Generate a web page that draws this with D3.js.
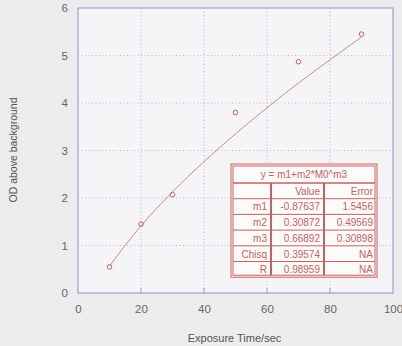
<!DOCTYPE html>
<html>
<head>
<meta charset="utf-8">
<script src="https://cdn.jsdelivr.net/npm/d3@7"></script>
<style>
  body { margin: 0; background: #ececec; }
  svg { display: block; font-family: "Liberation Sans", Arial, sans-serif; }
</style>
</head>
<body>
<svg id="chart"></svg>
<script>
// measured points
const exposure = [10, 20, 30, 50, 70, 90];
const odValues = [0.55, 1.45, 2.07, 3.8, 4.87, 5.45];

// fitted curve
const fitX = [10, 20, 30, 40, 50, 60, 70, 80, 90];
const fitY = [0.565, 1.415, 2.128, 2.766, 3.35, 3.9, 4.42, 4.91, 5.39];

const xTicks = [0, 20, 40, 60, 80, 100];
const yTicks = [0, 1, 2, 3, 4, 5, 6];

// fit results table
const fitTitle = 'y = m1+m2*M0^m3';
const tableHeader = ['', 'Value', 'Error'];
const paramNames = ['m1', 'm2', 'm3', 'Chisq', 'R'];
const paramValues = ['-0.87637', '0.30872', '0.66892', '0.39574', '0.98959'];
const paramErrors = ['1.5456', '0.49569', '0.30898', 'NA', 'NA'];

const W = 402, H = 346;
const margin = {top: 8, right: 9, bottom: 53, left: 78};
const width = W - margin.left - margin.right;
const height = H - margin.top - margin.bottom;

const axisCol = '#9d9fd6';
const red = '#c9605c';

let svg = d3.select('#chart').attr('width', W).attr('height', H);

svg.append('rect').attr('width', W).attr('height', H).attr('fill', '#ececec');

let chart = svg.append('g').attr('transform', `translate(${margin.left},${margin.top})`);

let xScale = d3.scaleLinear().domain([0, 100]).range([0, width]);
let yScale = d3.scaleLinear().domain([0, 6]).range([height, 0]);

chart.append('rect')
  .attr('width', width).attr('height', height)
  .attr('fill', '#f5f5f7');

// dotted grid
chart.append('g').selectAll('line')
  .data(xTicks.slice(1, -1))
  .join('line')
  .attr('x1', d => xScale(d)).attr('x2', d => xScale(d))
  .attr('y1', 0).attr('y2', height)
  .attr('stroke', '#b4b6dc').attr('stroke-width', 1)
  .attr('stroke-dasharray', '1,2.5');

chart.append('g').selectAll('line')
  .data(yTicks.slice(1, -1))
  .join('line')
  .attr('x1', 0).attr('x2', width)
  .attr('y1', d => yScale(d)).attr('y2', d => yScale(d))
  .attr('stroke', '#b4b6dc').attr('stroke-width', 1)
  .attr('stroke-dasharray', '1,2.5');

// axes
let xAxis = d3.axisBottom(xScale).tickValues(xTicks).tickFormat(d3.format('d')).tickSize(0).tickPadding(12);
let yAxis = d3.axisLeft(yScale).tickValues(yTicks).tickFormat(d3.format('d')).tickSize(0).tickPadding(10);

let xAxisGroup = chart.append('g')
  .attr('transform', `translate(0,${height})`)
  .call(xAxis);
let yAxisGroup = chart.append('g').call(yAxis);

[xAxisGroup, yAxisGroup].forEach(g => {
  g.select('.domain').remove();
  g.selectAll('text').attr('fill', '#666').attr('font-size', 11.5)
    .attr('font-family', '"Liberation Sans", Arial, sans-serif');
});

// small inward tick marks
chart.append('g').selectAll('line')
  .data(xTicks.slice(1, -1))
  .join('line')
  .attr('x1', d => xScale(d)).attr('x2', d => xScale(d))
  .attr('y1', height).attr('y2', height - 5)
  .attr('stroke', axisCol);

chart.append('rect')
  .attr('width', width).attr('height', height)
  .attr('fill', 'none').attr('stroke', axisCol).attr('stroke-width', 1.2);

// fit line
let line = d3.line()
  .x((d, i) => xScale(fitX[i]))
  .y(d => yScale(d))
  .curve(d3.curveMonotoneX);

chart.append('path')
  .attr('d', line(fitY))
  .attr('fill', 'none')
  .attr('stroke', '#d08a86')
  .attr('stroke-width', 1);

// points
chart.selectAll('circle.pt')
  .data(odValues)
  .join('circle')
  .attr('class', 'pt')
  .attr('cx', (d, i) => xScale(exposure[i]))
  .attr('cy', d => yScale(d))
  .attr('r', 2.3)
  .attr('fill', 'none')
  .attr('stroke', red)
  .attr('stroke-width', 1);

// axis titles
svg.append('text')
  .attr('x', margin.left + width / 2 - 1)
  .attr('y', 342)
  .attr('text-anchor', 'middle')
  .attr('font-size', 11)
  .attr('fill', '#555')
  .text('Exposure Time/sec');

svg.append('text')
  .attr('transform', 'translate(17,150) rotate(-90)')
  .attr('text-anchor', 'middle')
  .attr('font-size', 10.5)
  .attr('fill', '#555')
  .text('OD above background');

// results table
const tx = 231, ty = 164;
const colW = [40, 53, 53];
const titleH = 19, rowH = 15.7;
const tw = d3.sum(colW);
const th = titleH + rowH * (paramNames.length + 1);

let table = svg.append('g').attr('transform', `translate(${tx},${ty})`);

table.append('rect')
  .attr('width', tw).attr('height', th)
  .attr('fill', '#fbfbfb')
  .attr('stroke', red).attr('stroke-width', 1);
table.append('rect')
  .attr('x', 2).attr('y', 2)
  .attr('width', tw - 4).attr('height', th - 4)
  .attr('fill', 'none')
  .attr('stroke', red).attr('stroke-width', 1);

// horizontal rules
let rowTops = d3.range(paramNames.length + 1).map(i => titleH + i * rowH);
table.selectAll('line.h')
  .data(rowTops)
  .join('line')
  .attr('class', 'h')
  .attr('x1', 2).attr('x2', tw - 2)
  .attr('y1', d => d).attr('y2', d => d)
  .attr('stroke', red).attr('stroke-width', d => d === titleH ? 1.5 : 1);

// vertical rules
let colEdges = [colW[0], colW[0] + colW[1]];
table.selectAll('line.v')
  .data(colEdges)
  .join('line')
  .attr('class', 'v')
  .attr('x1', d => d).attr('x2', d => d)
  .attr('y1', titleH).attr('y2', th - 2)
  .attr('stroke', red).attr('stroke-width', 2);

table.append('text')
  .attr('x', tw / 2).attr('y', titleH - 5)
  .attr('text-anchor', 'middle')
  .attr('font-size', 10).attr('fill', red)
  .text(fitTitle);

let rows = [tableHeader].concat(paramNames.map((n, i) => [n, paramValues[i], paramErrors[i]]));
rows.forEach((r, ri) => {
  r.forEach((cell, ci) => {
    let right = d3.sum(colW.slice(0, ci + 1)) - 4;
    table.append('text')
      .attr('x', right)
      .attr('y', titleH + ri * rowH + rowH - 4)
      .attr('text-anchor', 'end')
      .attr('font-size', 10).attr('fill', red)
      .text(cell);
  });
});
</script>
</body>
</html>
